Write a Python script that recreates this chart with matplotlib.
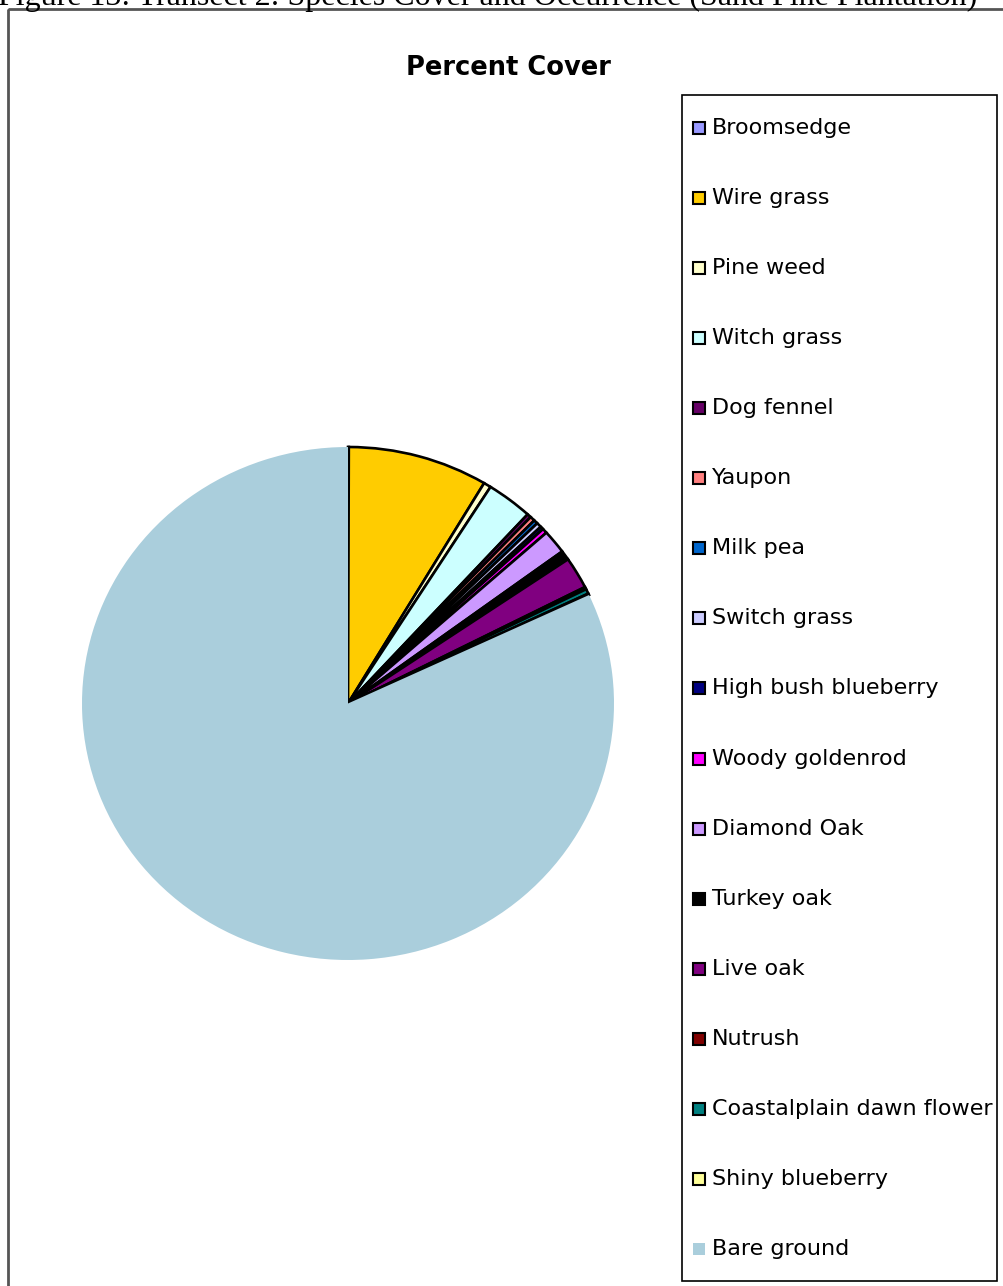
import matplotlib
matplotlib.use("Agg")
import matplotlib.pyplot as plt
from matplotlib.patches import Rectangle

W, H = 1004, 1286

species = ["Broomsedge", "Wire grass", "Pine weed", "Witch grass", "Dog fennel",
           "Yaupon", "Milk pea", "Switch grass", "High bush blueberry",
           "Woody goldenrod", "Diamond Oak", "Turkey oak", "Live oak", "Nutrush",
           "Coastalplain dawn flower", "Shiny blueberry", "Bare ground"]
cover = [0.05, 8.5, 0.45, 2.8, 0.25, 0.3, 0.25, 0.3, 0.2, 0.3, 1.5, 0.6, 2.0,
         0.15, 0.3, 0.1, 81.95]
colors = ["#9999FF", "#FFCC00", "#FFFFCC", "#CCFFFF", "#660066", "#FF8080",
          "#0066CC", "#CCCCFF", "#000080", "#FF00FF", "#CC99FF", "#000000",
          "#800080", "#800000", "#008080", "#FFFF99", "#AACEDC"]

fig = plt.figure(figsize=(W / 100, H / 100), dpi=100)

# background overlay in pixel coordinates
bg = fig.add_axes([0, 0, 1, 1], zorder=0)
bg.set_xlim(0, W)
bg.set_ylim(H, 0)
bg.axis("off")

# caption (cut off at the top, as in the source page)
bg.text(-2, 5, "Figure 13: Transect 2: Species Cover and Occurrence (Sand Pine Plantation)",
        fontsize=23, family="Liberation Serif", ha="left", va="baseline")

# outer chart frame
bg.add_patch(Rectangle((8, 9), W + 20, H + 20, fill=False, edgecolor="#555555", lw=2))

# title
bg.text(508, 68, "Percent Cover", fontsize=18.5, fontweight="bold",
        family="DejaVu Sans", ha="center", va="center")

# pie
ax = fig.add_axes([82 / W, (H - 960) / H, 532 / W, 513 / H], zorder=1)
wedges, _ = ax.pie(cover, colors=colors, startangle=90, counterclock=False,
                   radius=1.0, wedgeprops=dict(edgecolor="black", linewidth=1.9))
wedges[-1].set_edgecolor("none")
ax.set_aspect("auto")
ax.set_xlim(-1, 1)
ax.set_ylim(-1, 1)
ax.axis("off")

# legend
lg = fig.add_axes([0, 0, 1, 1], zorder=2)
lg.set_xlim(0, W)
lg.set_ylim(H, 0)
lg.axis("off")
lg.add_patch(Rectangle((682, 95), 315, 1186, fill=False, edgecolor="black", lw=1.2))
y0, dy = 128, 70.06
for i, (name, c) in enumerate(zip(species, colors)):
    y = y0 + i * dy
    ec = "none" if name == "Bare ground" else "black"
    lg.add_patch(Rectangle((693, y - 6), 12, 12, facecolor=c, edgecolor=ec, lw=1.5))
    lg.text(712, y, name, fontsize=16, family="DejaVu Sans", ha="left", va="center")

fig.savefig("out.png", dpi=100, facecolor="white")
